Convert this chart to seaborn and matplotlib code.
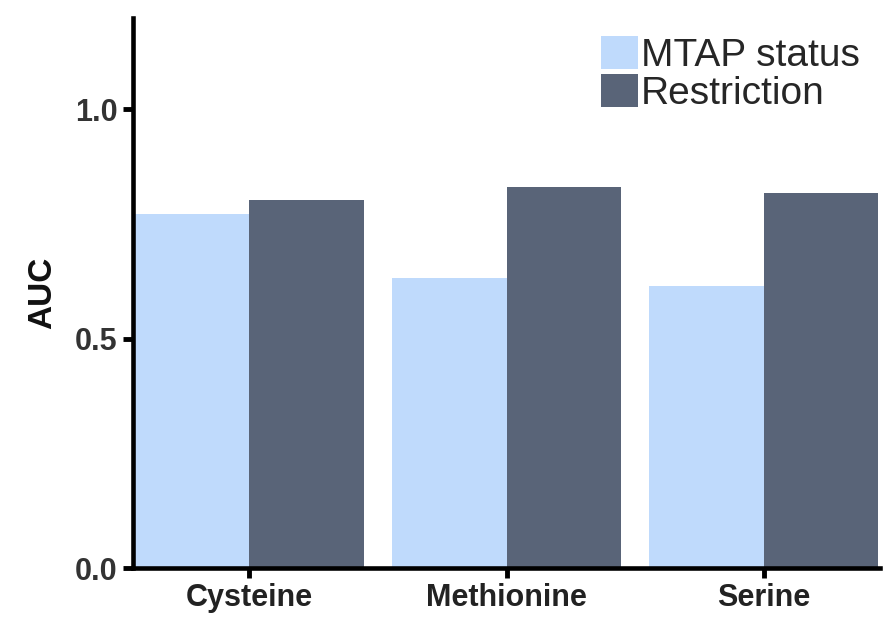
import matplotlib
matplotlib.use("Agg")
import matplotlib.pyplot as plt
import seaborn as sns
import pandas as pd

# Data
categories = ["Cysteine", "Methionine", "Serine"]
mtap_status = [0.773, 0.632, 0.614]
restriction = [0.802, 0.830, 0.817]
series_names = ["MTAP status", "Restriction"]
y_ticks = [0.0, 0.5, 1.0]
y_tick_labels = ["0.0", "0.5", "1.0"]

df = pd.DataFrame({
    "amino_acid": categories * 2,
    "group": [series_names[0]] * len(categories) + [series_names[1]] * len(categories),
    "AUC": mtap_status + restriction,
})

sns.set_style("white")
plt.rcParams["font.family"] = ["Liberation Sans", "DejaVu Sans"]

fig = plt.figure(figsize=(8.93, 6.17), dpi=100)
ax = fig.add_axes([0.149, 0.0794, 0.8365, 0.8919])

palette = {"MTAP status": "#BFDAFC", "Restriction": "#596478"}
sns.barplot(data=df, x="amino_acid", y="AUC", hue="group", order=categories,
            hue_order=series_names, palette=palette, saturation=1,
            width=0.89, gap=0, linewidth=0, ax=ax)

ax.set_xlim(-0.452, 2.452)
ax.set_ylim(0, 1.2)
ax.set_yticks(y_ticks)
ax.set_yticklabels(y_tick_labels)
ax.set_xlabel("")
ax.set_ylabel("AUC", fontsize=24, fontweight="bold", labelpad=12, color="#111111")

for side in ["top", "right"]:
    ax.spines[side].set_visible(False)
for side in ["left", "bottom"]:
    ax.spines[side].set_linewidth(3.3)
    ax.spines[side].set_color("black")

ax.tick_params(axis="both", which="major", direction="out", length=7, width=3.5,
               color="black", pad=4, bottom=True, left=True)
for lbl in ax.get_xticklabels():
    lbl.set_fontweight("bold")
    lbl.set_fontsize(22)
    lbl.set_color("#222222")
for lbl in ax.get_yticklabels():
    lbl.set_fontweight("bold")
    lbl.set_fontsize(22)
    lbl.set_color("#333333")

ax.legend(loc="upper left", bbox_to_anchor=(0.627, 0.967), frameon=False,
          fontsize=28, handlelength=0.93, handleheight=0.93, handletextpad=0.08,
          labelspacing=0.0, borderpad=0, borderaxespad=0)

fig.savefig("out.png", dpi=100)
